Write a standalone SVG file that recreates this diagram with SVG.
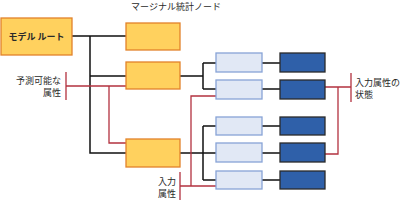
<svg xmlns="http://www.w3.org/2000/svg" width="403" height="201" viewBox="0 0 403 201">
<style>
.t{font-family:"Noto Sans CJK JP","Noto Sans",sans-serif;font-size:9px;fill:#2a2a2a}
.org{fill:#ffd15e;stroke:#e2822a;stroke-width:1.3}
.lb{fill:#e1e8f5;stroke:#87a3d6;stroke-width:1.3}
.db{fill:#2f60a9;stroke:#2a2a2a;stroke-width:1.3}
.k{stroke:#111;stroke-width:1.5;fill:none}
.r{stroke:#b3323f;stroke-width:1.3;fill:none}
</style>
<rect width="403" height="201" fill="#fff"/>
<text class="t" x="176" y="10" text-anchor="middle" font-size="9.5px">マージナル統計ノード</text>
<g id="connectors">
<path class="k" d="M72 36H126M90 36V153H126M90 76H126M180 76H203M203 63V89M203 63H216M203 89H216M180 153H216M203 126V180M203 126H216M203 180H216M262 63H280M262 89H280M262 126H280M262 153H280M262 180H280"/>
<path class="r" d="M66 72V100M66 86H132M109 86V143H131"/>
<path class="r" d="M180 172V200M180 186H222M191 186V96H221"/>
<path class="r" d="M351 73V102M320 87H351M338 87V154H320"/>
</g>
<g id="root"><rect class="org" x="1" y="18" width="71" height="37"/><text class="t" x="36.5" y="40" text-anchor="middle" font-weight="bold" font-size="10px">モデル ルート</text></g>
<g id="m1"><rect class="org" x="126" y="23" width="54" height="27"/></g>
<g id="m2"><rect class="org" x="126" y="62" width="54" height="27"/></g>
<g id="m3"><rect class="org" x="126" y="139" width="54" height="28"/></g>
<g id="a1"><rect class="lb" x="216" y="53" width="46" height="19"/></g>
<g id="a2"><rect class="lb" x="216" y="80" width="46" height="19"/></g>
<g id="a3"><rect class="lb" x="216" y="117" width="46" height="18"/></g>
<g id="a4"><rect class="lb" x="216" y="143" width="46" height="19"/></g>
<g id="a5"><rect class="lb" x="216" y="171" width="46" height="18"/></g>
<g id="s1"><rect class="db" x="280" y="53" width="45" height="19"/></g>
<g id="s2"><rect class="db" x="280" y="80" width="45" height="19"/></g>
<g id="s3"><rect class="db" x="280" y="117" width="45" height="18"/></g>
<g id="s4"><rect class="db" x="280" y="143" width="45" height="19"/></g>
<g id="s5"><rect class="db" x="280" y="171" width="45" height="18"/></g>
<g id="lbl-pred"><text class="t" x="61" y="83.5" text-anchor="end">予測可能な</text><text class="t" x="61" y="95.5" text-anchor="end">属性</text></g>
<g id="lbl-in"><text class="t" x="176" y="184.5" text-anchor="end">入力</text><text class="t" x="176" y="196.5" text-anchor="end">属性</text></g>
<g id="lbl-state"><text class="t" x="355" y="85.5">入力属性の</text><text class="t" x="355" y="97.5">状態</text></g>
</svg>
